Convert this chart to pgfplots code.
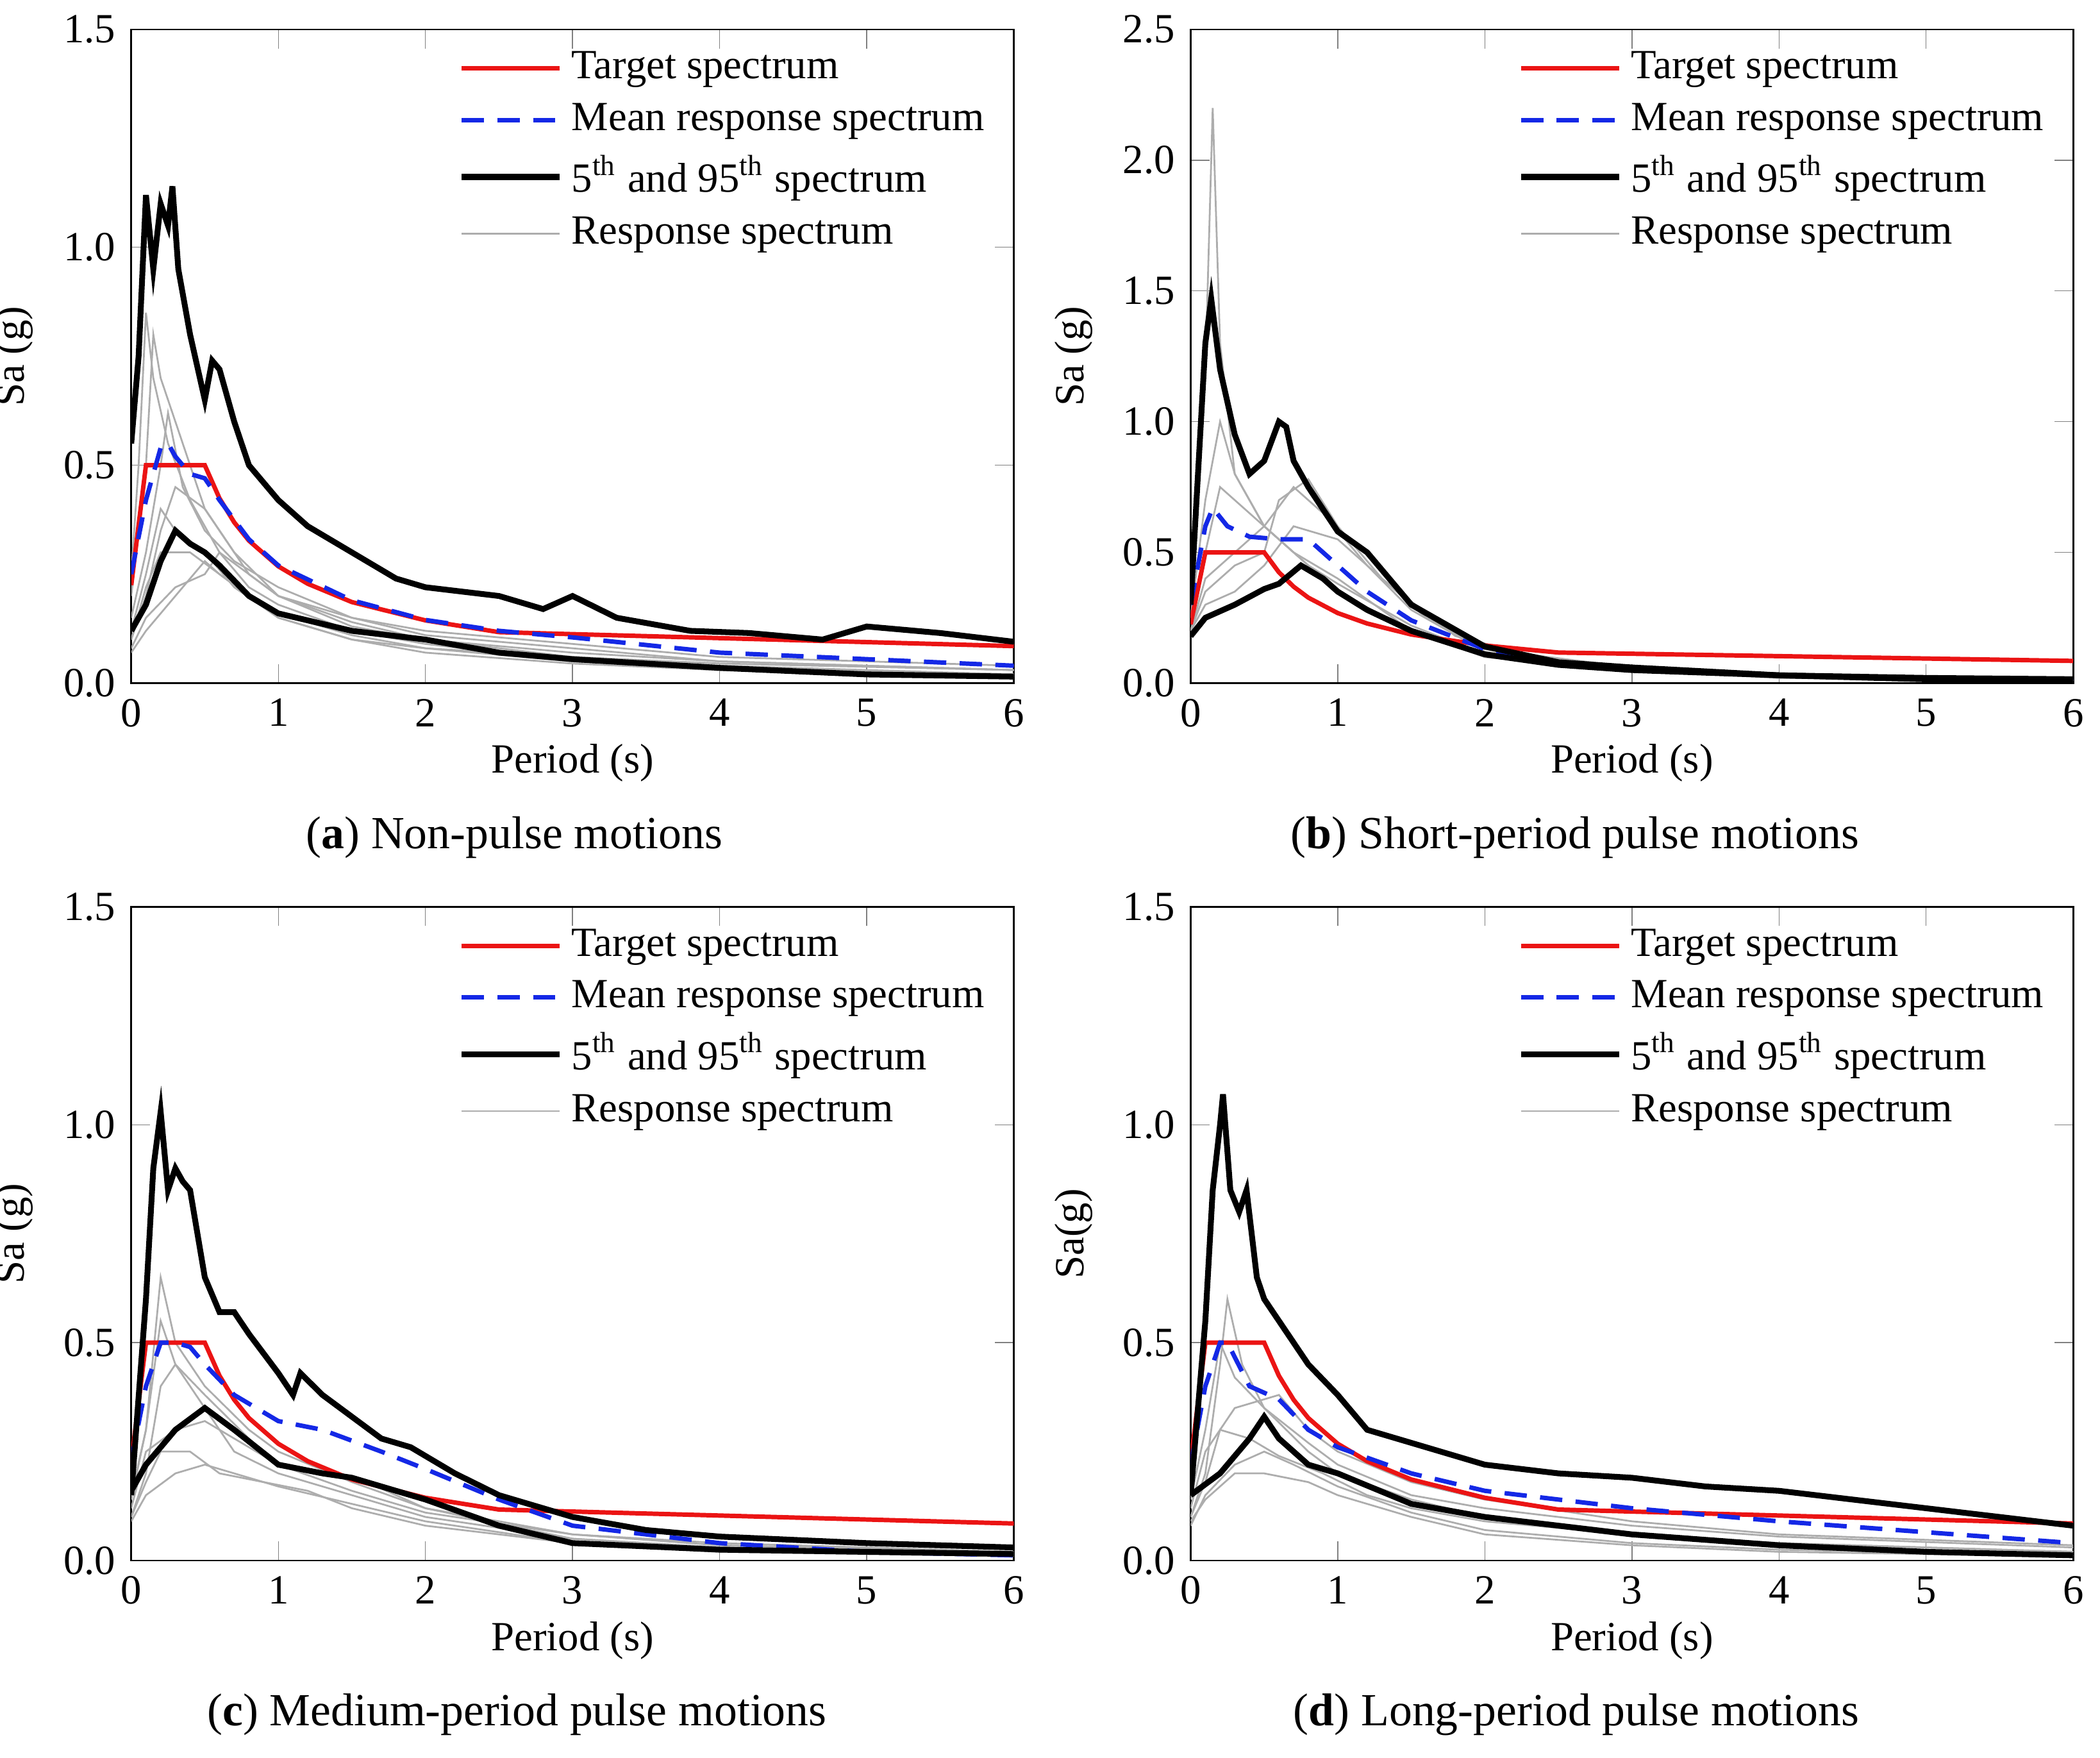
\documentclass[border=0pt]{standalone}
\usepackage{pgfplots}
\pgfplotsset{compat=1.18}
\usepackage{fontspec}
\setmainfont{Liberation Serif}
\definecolor{tred}{RGB}{235,20,20}
\definecolor{mblue}{RGB}{20,40,230}
\pgfplotsset{
 panel/.style={width=197.7pt,height=146.4pt,scale only axis,xmin=0,xmax=6,ymin=0,
  xtick={0,1,2,3,4,5,6},tick align=inside,
  tick label style={font=\fontsize{9.3}{11}\selectfont},
  label style={font=\fontsize{9.3}{11}\selectfont},
  /pgf/number format/assume math mode=true,
  yticklabel style={/pgf/number format/fixed,/pgf/number format/fixed zerofill,/pgf/number format/precision=1},
  xlabel={Period (s)},xlabel style={yshift=3pt},
  legend style={at={(0.37,0.995)},anchor=north west,draw=none,fill=none,
   font=\fontsize{9.3}{10.5}\selectfont,row sep=0pt,inner xsep=0pt},
  legend cell align=left,
  legend image code/.code={\draw[##1] (0pt,0pt) -- (22pt,0pt);},
  every axis plot/.append style={forget plot},
 },
 gr/.style={color=black!32,line width=0.4pt},
 tg/.style={color=tred,line width=1pt},
 mn/.style={color=mblue,line width=1pt,dash pattern=on 5pt off 3pt},
 pc/.style={color=black,line width=1.3pt},
}
\newcommand{\leg}{%
 \addlegendimage{tg}\addlegendentry{Target spectrum}
 \addlegendimage{mn}\addlegendentry{Mean response spectrum}
 \addlegendimage{pc}\addlegendentry{5\textsuperscript{th} and 95\textsuperscript{th} spectrum}
 \addlegendimage{gr}\addlegendentry{Response spectrum}}
\newcommand{\target}{\addplot[tg] coordinates {(0,0.225)(0.1,0.5)(0.5,0.5)(0.6,0.424)(0.7,0.369)(0.8,0.327)(1.0,0.268)(1.2,0.228)(1.5,0.186)(2.0,0.144)(2.5,0.117)(6,0.085)};}
\begin{document}
\begin{tikzpicture}
\useasboundingbox (0,0) rectangle (470.4pt,393.6pt);
% (a)
\begin{axis}[panel,at={(29.4pt,240.6pt)},anchor=south west,ymax=1.5,ytick={0,0.5,1,1.5},ylabel={Sa (g)}]
\addplot[gr] coordinates {(0,0.1)(0.1,0.2)(0.2,0.35)(0.3,0.45)(0.5,0.4)(0.7,0.3)(1,0.2)(1.5,0.13)(2,0.1)(3,0.06)(4,0.04)(6,0.02)};
\addplot[gr] coordinates {(0,0.2)(0.1,0.5)(0.15,0.8)(0.2,0.7)(0.3,0.6)(0.5,0.4)(0.8,0.25)(1,0.2)(1.5,0.15)(2,0.11)(3,0.08)(4,0.05)(6,0.03)};
\addplot[gr] coordinates {(0,0.08)(0.1,0.15)(0.3,0.22)(0.5,0.25)(0.6,0.3)(0.8,0.22)(1,0.18)(1.5,0.12)(2,0.09)(3,0.05)(4,0.03)(6,0.015)};
\addplot[gr] coordinates {(0,0.15)(0.1,0.3)(0.2,0.5)(0.25,0.62)(0.35,0.45)(0.5,0.35)(0.7,0.28)(1,0.22)(1.5,0.15)(2,0.12)(3,0.09)(4,0.06)(6,0.04)};
\addplot[gr] coordinates {(0,0.1)(0.1,0.22)(0.2,0.3)(0.4,0.3)(0.6,0.25)(0.8,0.2)(1,0.15)(1.5,0.1)(2,0.07)(3,0.045)(4,0.03)(6,0.02)};
\addplot[gr] coordinates {(0,0.25)(0.05,0.5)(0.1,0.85)(0.15,0.7)(0.25,0.55)(0.4,0.42)(0.6,0.3)(1,0.2)(1.5,0.14)(2,0.1)(3,0.07)(4,0.05)(6,0.03)};
\addplot[gr] coordinates {(0,0.07)(0.1,0.12)(0.3,0.2)(0.5,0.28)(0.6,0.25)(0.8,0.2)(1,0.16)(1.5,0.11)(2,0.08)(3,0.05)(4,0.035)(6,0.02)};
\addplot[gr] coordinates {(0,0.12)(0.1,0.25)(0.2,0.4)(0.3,0.35)(0.5,0.3)(0.7,0.22)(1,0.15)(1.5,0.1)(2,0.08)(3,0.06)(4,0.045)(6,0.03)};
\target
\addplot[mn] coordinates {(0,0.25)(0.1,0.42)(0.2,0.54)(0.25,0.55)(0.3,0.52)(0.4,0.48)(0.5,0.47)(0.6,0.42)(0.8,0.33)(1.0,0.27)(1.5,0.19)(2.0,0.145)(2.5,0.12)(3.0,0.105)(4,0.07)(5,0.055)(6,0.04)};
\addplot[pc] coordinates {(0,0.55)(0.05,0.75)(0.1,1.12)(0.15,0.95)(0.2,1.1)(0.25,1.05)(0.28,1.14)(0.32,0.95)(0.4,0.8)(0.5,0.65)(0.55,0.74)(0.6,0.72)(0.7,0.6)(0.8,0.5)(1.0,0.42)(1.2,0.36)(1.5,0.3)(1.8,0.24)(2.0,0.22)(2.5,0.2)(2.8,0.17)(3.0,0.2)(3.3,0.15)(3.8,0.12)(4.2,0.115)(4.7,0.1)(5.0,0.13)(5.5,0.115)(6,0.095)};
\addplot[pc] coordinates {(0,0.12)(0.1,0.18)(0.2,0.28)(0.3,0.35)(0.4,0.32)(0.5,0.3)(0.6,0.27)(0.8,0.2)(1.0,0.16)(1.5,0.12)(2.0,0.1)(2.5,0.07)(3,0.055)(4,0.035)(5,0.02)(6,0.015)};
\leg
\end{axis}
% (b)
\begin{axis}[panel,at={(266.7pt,240.6pt)},anchor=south west,ymax=2.5,ytick={0,0.5,1,1.5,2,2.5},ylabel={Sa (g)}]
\addplot[gr] coordinates {(0,0.3)(0.1,1.2)(0.15,2.2)(0.2,1.3)(0.3,0.8)(0.5,0.6)(0.7,0.5)(1,0.4)(1.5,0.2)(2,0.1)(3,0.05)(4,0.03)(6,0.01)};
\addplot[gr] coordinates {(0,0.2)(0.1,0.4)(0.3,0.5)(0.5,0.6)(0.7,0.75)(0.9,0.65)(1.2,0.45)(1.5,0.28)(2,0.12)(3,0.05)(4,0.02)(6,0.01)};
\addplot[gr] coordinates {(0,0.25)(0.1,0.7)(0.2,1.0)(0.3,0.8)(0.5,0.6)(0.7,0.5)(1,0.35)(1.5,0.2)(2,0.1)(3,0.05)(4,0.03)(6,0.015)};
\addplot[gr] coordinates {(0,0.2)(0.1,0.3)(0.3,0.35)(0.5,0.45)(0.7,0.6)(1,0.55)(1.3,0.4)(1.6,0.25)(2,0.13)(3,0.06)(4,0.03)(6,0.015)};
\addplot[gr] coordinates {(0,0.25)(0.1,0.5)(0.2,0.75)(0.4,0.65)(0.6,0.55)(0.8,0.45)(1,0.38)(1.5,0.22)(2,0.11)(3,0.05)(4,0.025)(6,0.01)};
\addplot[gr] coordinates {(0,0.2)(0.1,0.35)(0.3,0.45)(0.5,0.5)(0.6,0.7)(0.8,0.78)(1,0.6)(1.3,0.4)(1.8,0.18)(2.5,0.08)(4,0.03)(6,0.015)};
\target
\addplot[mn] coordinates {(0,0.3)(0.1,0.6)(0.15,0.67)(0.25,0.6)(0.4,0.56)(0.6,0.55)(0.8,0.55)(1.0,0.45)(1.2,0.35)(1.5,0.24)(2.0,0.13)(2.5,0.08)(3,0.05)(4,0.03)(5,0.02)(6,0.015)};
\addplot[pc] coordinates {(0,0.3)(0.05,0.8)(0.1,1.3)(0.14,1.47)(0.2,1.2)(0.3,0.95)(0.4,0.8)(0.5,0.85)(0.6,1.0)(0.65,0.98)(0.7,0.85)(0.8,0.75)(1.0,0.58)(1.2,0.5)(1.5,0.3)(2.0,0.14)(2.5,0.08)(3,0.06)(4,0.03)(5,0.02)(6,0.015)};
\addplot[pc] coordinates {(0,0.18)(0.1,0.25)(0.3,0.3)(0.5,0.36)(0.6,0.38)(0.75,0.45)(0.9,0.4)(1.0,0.35)(1.2,0.28)(1.5,0.2)(2.0,0.11)(2.5,0.07)(3,0.05)(4,0.03)(5,0.015)(6,0.01)};
\leg
\end{axis}
% (c)
\begin{axis}[panel,at={(29.4pt,44.1pt)},anchor=south west,ymax=1.5,ytick={0,0.5,1,1.5},ylabel={Sa (g)}]
\addplot[gr] coordinates {(0,0.1)(0.1,0.2)(0.2,0.4)(0.3,0.45)(0.5,0.35)(0.7,0.25)(1,0.2)(1.5,0.15)(2,0.1)(3,0.05)(4,0.03)(6,0.015)};
\addplot[gr] coordinates {(0,0.15)(0.1,0.3)(0.2,0.65)(0.3,0.5)(0.5,0.4)(0.8,0.3)(1,0.25)(1.5,0.18)(2,0.12)(3,0.06)(4,0.04)(6,0.02)};
\addplot[gr] coordinates {(0,0.09)(0.1,0.15)(0.3,0.2)(0.5,0.22)(0.7,0.2)(1,0.17)(1.5,0.13)(2,0.09)(3,0.04)(4,0.025)(6,0.012)};
\addplot[gr] coordinates {(0,0.12)(0.1,0.25)(0.3,0.3)(0.5,0.32)(0.7,0.28)(1,0.22)(1.3,0.2)(1.6,0.18)(2,0.12)(3,0.05)(4,0.03)(6,0.015)};
\addplot[gr] coordinates {(0,0.1)(0.1,0.18)(0.2,0.25)(0.4,0.25)(0.6,0.2)(0.9,0.18)(1.2,0.16)(1.5,0.12)(2,0.08)(3,0.04)(4,0.02)(6,0.01)};
\addplot[gr] coordinates {(0,0.14)(0.1,0.3)(0.2,0.55)(0.3,0.45)(0.5,0.38)(0.8,0.28)(1,0.22)(1.5,0.16)(2,0.11)(3,0.06)(4,0.035)(6,0.02)};
\target
\addplot[mn] coordinates {(0,0.23)(0.1,0.4)(0.2,0.5)(0.3,0.5)(0.4,0.49)(0.5,0.45)(0.7,0.38)(1.0,0.32)(1.3,0.3)(1.7,0.25)(2.0,0.21)(2.5,0.14)(3,0.08)(4,0.04)(5,0.02)(6,0.012)};
\addplot[pc] coordinates {(0,0.15)(0.1,0.6)(0.15,0.9)(0.2,1.03)(0.25,0.85)(0.3,0.9)(0.35,0.87)(0.4,0.85)(0.5,0.65)(0.6,0.57)(0.7,0.57)(0.8,0.52)(1.0,0.43)(1.1,0.38)(1.15,0.43)(1.3,0.38)(1.5,0.33)(1.7,0.28)(1.9,0.26)(2.2,0.2)(2.5,0.15)(3,0.1)(3.5,0.07)(4,0.055)(5,0.04)(6,0.03)};
\addplot[pc] coordinates {(0,0.16)(0.1,0.22)(0.3,0.3)(0.5,0.35)(0.7,0.3)(1.0,0.22)(1.3,0.2)(1.5,0.19)(2.0,0.14)(2.5,0.08)(3,0.04)(4,0.025)(5,0.02)(6,0.015)};
\leg
\end{axis}
% (d)
\begin{axis}[panel,at={(266.7pt,44.1pt)},anchor=south west,ymax=1.5,ytick={0,0.5,1,1.5},ylabel={Sa(g)}]
\addplot[gr] coordinates {(0,0.1)(0.1,0.2)(0.2,0.45)(0.25,0.6)(0.35,0.45)(0.5,0.35)(0.8,0.25)(1,0.2)(1.5,0.14)(2,0.1)(3,0.06)(4,0.04)(6,0.02)};
\addplot[gr] coordinates {(0,0.08)(0.1,0.15)(0.3,0.22)(0.5,0.25)(0.7,0.22)(1,0.17)(1.5,0.11)(2,0.07)(3,0.04)(4,0.025)(6,0.012)};
\addplot[gr] coordinates {(0,0.12)(0.1,0.25)(0.3,0.35)(0.6,0.38)(0.8,0.3)(1,0.25)(1.5,0.18)(2,0.14)(3,0.09)(4,0.06)(6,0.035)};
\addplot[gr] coordinates {(0,0.1)(0.1,0.18)(0.2,0.3)(0.4,0.28)(0.6,0.24)(0.9,0.2)(1.2,0.15)(1.5,0.12)(2,0.09)(3,0.06)(4,0.04)(6,0.02)};
\addplot[gr] coordinates {(0,0.14)(0.1,0.3)(0.2,0.5)(0.3,0.42)(0.5,0.35)(0.8,0.27)(1,0.22)(1.5,0.15)(2,0.12)(3,0.08)(4,0.055)(6,0.03)};
\addplot[gr] coordinates {(0,0.09)(0.1,0.14)(0.3,0.2)(0.5,0.2)(0.8,0.18)(1,0.15)(1.5,0.1)(2,0.06)(3,0.035)(4,0.02)(6,0.01)};
\target
\addplot[mn] coordinates {(0,0.22)(0.1,0.4)(0.2,0.5)(0.25,0.5)(0.4,0.4)(0.6,0.37)(0.8,0.3)(1.0,0.26)(1.5,0.2)(2,0.16)(2.5,0.14)(3,0.12)(4,0.09)(5,0.065)(6,0.04)};
\addplot[pc] coordinates {(0,0.15)(0.1,0.55)(0.15,0.85)(0.2,1.0)(0.22,1.07)(0.27,0.85)(0.33,0.8)(0.38,0.85)(0.45,0.65)(0.5,0.6)(0.6,0.55)(0.8,0.45)(1.0,0.38)(1.2,0.3)(1.5,0.27)(2.0,0.22)(2.5,0.2)(3,0.19)(3.5,0.17)(4,0.16)(4.5,0.14)(5,0.12)(5.5,0.1)(6,0.08)};
\addplot[pc] coordinates {(0,0.15)(0.2,0.2)(0.4,0.28)(0.5,0.33)(0.6,0.28)(0.8,0.22)(1.0,0.2)(1.5,0.13)(2,0.1)(2.5,0.08)(3,0.06)(4,0.035)(5,0.02)(6,0.012)};
\leg
\end{axis}
\node[font=\fontsize{10.3}{12}\selectfont] at (115.2pt,206.1pt) {(\textbf{a}) Non-pulse motions};
\node[font=\fontsize{10.3}{12}\selectfont] at (352.8pt,206.1pt) {(\textbf{b}) Short-period pulse motions};
\node[font=\fontsize{10.3}{12}\selectfont] at (115.8pt,9.6pt) {(\textbf{c}) Medium-period pulse motions};
\node[font=\fontsize{10.3}{12}\selectfont] at (353.1pt,9.6pt) {(\textbf{d}) Long-period pulse motions};
\end{tikzpicture}
\end{document}
